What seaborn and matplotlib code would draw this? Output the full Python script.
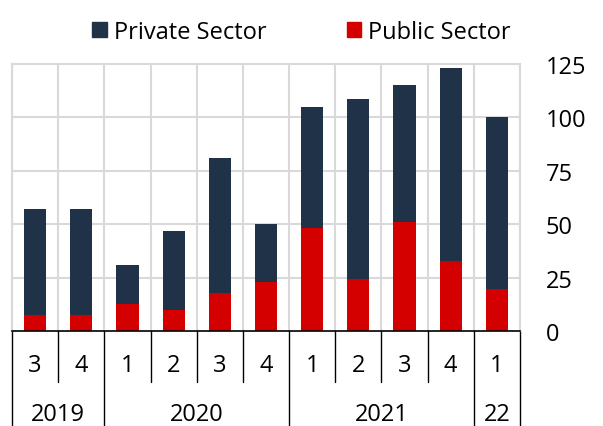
import matplotlib
matplotlib.use("Agg")
import matplotlib.pyplot as plt
import seaborn as sns
import pandas as pd
import numpy as np
from matplotlib.lines import Line2D
from matplotlib.patches import Patch

# -------------------------------
# Data
# -------------------------------
quarters = ['3', '4', '1', '2', '3', '4', '1', '2', '3', '4', '1']
years = ['2019', '2020', '2021', '22']
year_spans = [2, 4, 4, 1]
public = [7.5, 7.5, 12.5, 10, 18, 23, 48, 24.5, 51, 33, 19.5]
private = [49.5, 49.5, 18.5, 37, 63, 27, 57, 84, 64, 90, 80.5]

navy = '#1f3247'
red = '#d40000'
grid = '#d9d9d9'
fs = 17

df = pd.DataFrame({
    'pos': range(len(quarters)),
    'public': public,
    'total': np.array(public) + np.array(private),
})

sns.set_style('white')
plt.rcParams['font.family'] = ['Open Sans', 'DejaVu Sans']
plt.rcParams['text.color'] = 'black'
plt.rcParams['ytick.color'] = 'black'

fig = plt.figure(figsize=(6.03, 4.27), dpi=100)
ax = fig.add_axes([12 / 603, 95 / 427, 508 / 603, 267 / 427])

# stacked bars: total in navy, public drawn on top in red
sns.barplot(data=df, x='pos', y='total', color=navy, width=0.48,
            saturation=1, linewidth=0, ax=ax, zorder=3)
sns.barplot(data=df, x='pos', y='public', color=red, width=0.48,
            saturation=1, linewidth=0, ax=ax, zorder=4)

n = len(quarters)
ax.set_xlim(-0.5, n - 0.5)
ax.set_ylim(0, 125)
ax.set_yticks([0, 25, 50, 75, 100, 125])
ax.yaxis.tick_right()
ax.tick_params(axis='y', length=0, pad=18.5, labelsize=fs)
ax.set_xticks([])
ax.set_xlabel('')
ax.set_ylabel('')

# gridlines
for v in [25, 50, 75, 100]:
    ax.axhline(v, color=grid, lw=1.5, zorder=1)
for b in np.arange(-0.5, n, 1.0):
    ax.axvline(b, color=grid, lw=1.5, zorder=1)
for side in ['top', 'left', 'right']:
    ax.spines[side].set_color(grid)
    ax.spines[side].set_linewidth(1.5)
ax.spines['bottom'].set_color('black')
ax.spines['bottom'].set_linewidth(1.2)
ax.spines['bottom'].set_zorder(5)

# category axis: quarters and years
trans = ax.get_xaxis_transform()
for i, q in enumerate(quarters):
    ax.text(i, -34.5 / 267, q, transform=trans, ha='center', va='center', fontsize=fs)
year_edges = np.concatenate([[0], np.cumsum(year_spans)]) - 0.5
for b in np.arange(-0.5, n, 1.0):
    bottom = -0.4 if b in year_edges else -51 / 267
    ax.add_line(Line2D([b, b], [0, bottom], transform=trans, color='black',
                       lw=1, clip_on=False))
for k, yr in enumerate(years):
    mid = (year_edges[k] + year_edges[k + 1]) / 2
    ax.text(mid, -83 / 267, yr, transform=trans, ha='center', va='center', fontsize=fs)

handles = [Patch(color=navy, label='Private Sector'),
           Patch(color=red, label='Public Sector')]
fig.legend(handles=handles, loc='center', bbox_to_anchor=(0.5, 1 - 33 / 427),
           ncol=2, frameon=False, fontsize=fs, handlelength=0.6, handleheight=0.6,
           handletextpad=0.3, columnspacing=3.4, borderpad=0)

fig.savefig('out.png', dpi=100)
